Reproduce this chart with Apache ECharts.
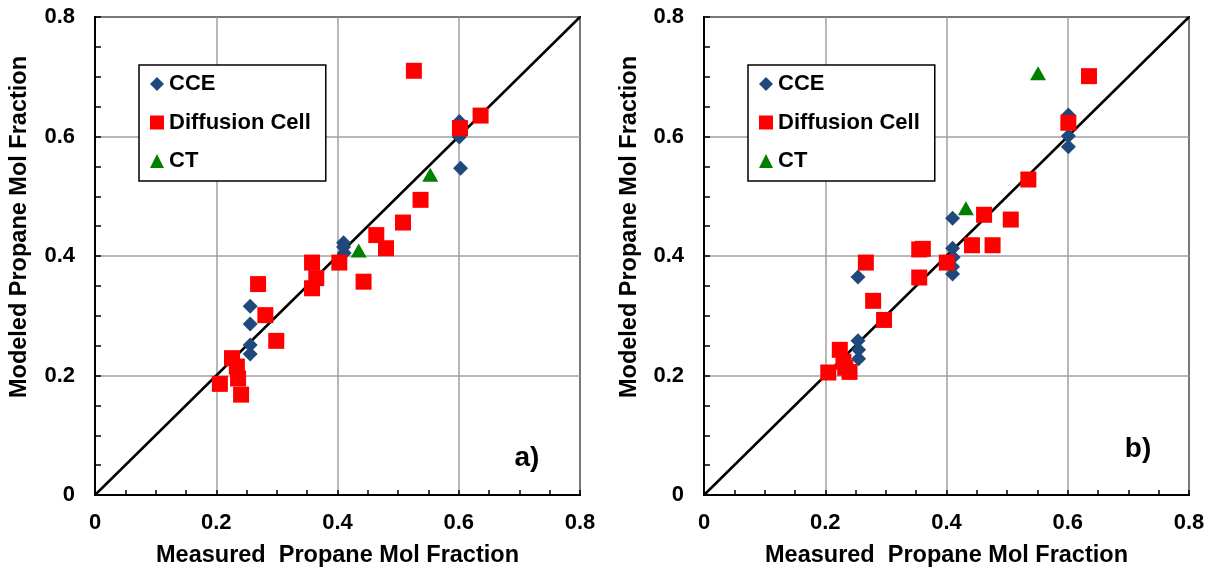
<!DOCTYPE html>
<html>
<head>
<meta charset="utf-8">
<script src="https://cdn.jsdelivr.net/npm/echarts@6/dist/echarts.min.js"></script>
<style>
html,body{margin:0;padding:0;background:#fff;}
#chart{width:1212px;height:571px;}
</style>
</head>
<body>
<div id="chart"></div>
<script>
// ---- Data ----
const seriesNames = ['CCE', 'Diffusion Cell', 'CT'];
const axisTickValues = [0, 0.2, 0.4, 0.6, 0.8];
const xAxisTitle = 'Measured  Propane Mol Fraction';
const yAxisTitle = 'Modeled Propane Mol Fraction';
const panelLabels = ['a)', 'b)'];
const parityLine = [[0, 0], [0.8, 0.8]];

// Panel a)
const cceA = [[0.256, 0.316], [0.256, 0.286], [0.256, 0.251], [0.256, 0.236],
  [0.410, 0.422], [0.410, 0.415], [0.411, 0.405],
  [0.601, 0.625], [0.601, 0.599], [0.603, 0.547]];
const diffA = [[0.526, 0.710], [0.602, 0.614], [0.636, 0.635], [0.537, 0.494],
  [0.508, 0.456], [0.464, 0.435], [0.480, 0.413], [0.403, 0.389], [0.358, 0.389],
  [0.365, 0.363], [0.358, 0.346], [0.443, 0.357], [0.269, 0.353], [0.281, 0.301],
  [0.299, 0.258], [0.226, 0.229], [0.234, 0.215], [0.236, 0.195], [0.206, 0.186],
  [0.241, 0.168]];
const ctA = [[0.553, 0.536], [0.435, 0.409]];

// Panel b)
const cceB = [[0.601, 0.636], [0.601, 0.601], [0.601, 0.583], [0.410, 0.463],
  [0.410, 0.413], [0.411, 0.398], [0.410, 0.382], [0.410, 0.370],
  [0.254, 0.365], [0.254, 0.258], [0.255, 0.243], [0.255, 0.228]];
const diffB = [[0.635, 0.701], [0.601, 0.623], [0.535, 0.528], [0.506, 0.461],
  [0.462, 0.469], [0.442, 0.418], [0.476, 0.418], [0.4005, 0.389], [0.355, 0.411],
  [0.361, 0.412], [0.355, 0.364], [0.267, 0.389], [0.279, 0.325], [0.297, 0.293],
  [0.224, 0.243], [0.230, 0.223], [0.233, 0.213], [0.240, 0.206], [0.205, 0.205]];
const ctB = [[0.551, 0.706], [0.432, 0.480]];

// ---- Styling ----
const FONT = 'Liberation Sans, Arial, sans-serif';
const COLORS = { 'CCE': '#1F497D', 'Diffusion Cell': '#FF0000', 'CT': '#008000' };
const SYMBOLS = { 'CCE': 'diamond', 'Diffusion Cell': 'rect', 'CT': 'triangle' };
const SIZES = { 'CCE': 15, 'Diffusion Cell': 16, 'CT': [16, 14] };

const grids = [
  { left: 95, top: 17, width: 485, height: 478 },
  { left: 704, top: 17, width: 485, height: 478 }
];

function fmt(v) { return v === 0 ? '0' : (+v).toFixed(1); }

function makeX(i) {
  return {
    type: 'value', gridIndex: i, min: 0, max: 0.8, interval: 0.2,
    name: xAxisTitle, nameLocation: 'middle', nameGap: 49,
    nameTextStyle: { fontFamily: FONT, fontWeight: 'bold', fontSize: 23.5, color: '#000' },
    axisLine: { show: true, onZero: false, lineStyle: { color: '#000', width: 2 } },
    axisTick: { show: true, inside: true, length: 5, lineStyle: { color: '#000', width: 1.5 } },
    minorTick: { show: true, splitNumber: 4, length: 5, lineStyle: { color: '#000', width: 1.5 } },
    splitLine: { show: true, lineStyle: { color: '#a0a0a0', width: 1.5 } },
    axisLabel: { margin: 17, fontFamily: FONT, fontWeight: 'bold', fontSize: 22, color: '#000', formatter: fmt,
      customValues: axisTickValues }
  };
}
function makeY(i, gap) {
  return {
    type: 'value', gridIndex: i, min: 0, max: 0.8, interval: 0.2,
    name: yAxisTitle, nameLocation: 'middle', nameGap: gap, nameRotate: 90,
    nameTextStyle: { fontFamily: FONT, fontWeight: 'bold', fontSize: 23.5, color: '#000',
      padding: [0, 0, 0, 58] },
    axisLine: { show: true, onZero: false, lineStyle: { color: '#000', width: 2 } },
    axisTick: { show: true, inside: true, length: 6, lineStyle: { color: '#000', width: 1.5 } },
    minorTick: { show: true, splitNumber: 4, length: 6, lineStyle: { color: '#000', width: 1.5 } },
    splitLine: { show: true, lineStyle: { color: '#a0a0a0', width: 1.5 } },
    axisLabel: { margin: 20, fontFamily: FONT, fontWeight: 'bold', fontSize: 22, color: '#000', formatter: fmt,
      customValues: axisTickValues }
  };
}

function scatter(name, data, i) {
  return {
    type: 'scatter', name: name, xAxisIndex: i, yAxisIndex: i, data: data,
    symbol: SYMBOLS[name], symbolSize: SIZES[name],
    itemStyle: { color: COLORS[name], opacity: 1 }, z: 3
  };
}
function parity(i) {
  return {
    type: 'line', name: 'parity', xAxisIndex: i, yAxisIndex: i, data: parityLine,
    showSymbol: false, symbol: 'none', lineStyle: { color: '#000', width: 2.5 }, z: 2,
    silent: true, animation: false
  };
}

function legend(left) {
  return {
    left: left, top: 65, orient: 'vertical',
    data: [
      { name: 'CCE', icon: 'diamond' },
      { name: 'Diffusion Cell', icon: 'rect' },
      { name: 'CT', icon: 'triangle' }
    ],
    itemWidth: 14, itemHeight: 14, itemGap: 16.5,
    padding: [8, 15, 9, 11],
    borderColor: '#000', borderWidth: 1.5, backgroundColor: '#fff',
    textStyle: { fontFamily: FONT, fontWeight: 'bold', fontSize: 22, color: '#000' }
  };
}

const option = {
  animation: false,
  backgroundColor: '#fff',
  grid: grids.map(g => Object.assign({ show: true, borderColor: '#000', borderWidth: 2,
    backgroundColor: 'transparent', containLabel: false, outerBoundsMode: 'none' }, g)),
  xAxis: [makeX(0), makeX(1)],
  yAxis: [makeY(0, 63), makeY(1, 62)],
  legend: [legend(139), legend(748)],
  series: [
    parity(0),
    scatter('CCE', cceA, 0), scatter('Diffusion Cell', diffA, 0), scatter('CT', ctA, 0),
    parity(1),
    scatter('CCE', cceB, 1), scatter('Diffusion Cell', diffB, 1), scatter('CT', ctB, 1)
  ],
  graphic: [
    { type: 'text', x: 527, y: 458, style: { text: panelLabels[0], x: 0, y: 0, align: 'center', verticalAlign: 'middle',
      fontFamily: FONT, fontWeight: 'bold', fontSize: 28, fill: '#000' } },
    { type: 'text', x: 1138, y: 449, style: { text: panelLabels[1], x: 0, y: 0, align: 'center', verticalAlign: 'middle',
      fontFamily: FONT, fontWeight: 'bold', fontSize: 28, fill: '#000' } }
  ]
};

const chart = echarts.init(document.getElementById('chart'), null, { renderer: 'canvas' });
chart.setOption(option);
</script>
</body>
</html>
